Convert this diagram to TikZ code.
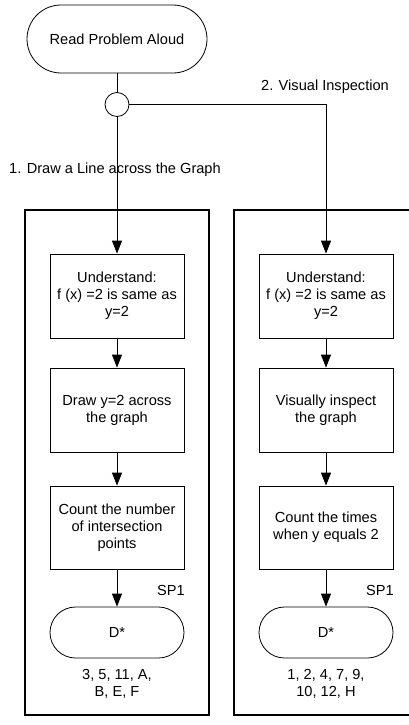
\documentclass[tikz,border=0pt]{standalone}
\usepackage{fontspec}
\setmainfont{Liberation Sans}
\usetikzlibrary{arrows.meta,positioning}
\begin{document}
\begin{tikzpicture}[x=1pt,y=-1pt,
  font=\fontsize{14.6}{17}\selectfont,
  line width=0.8pt,
  conn/.style={draw,-{Triangle[length=13pt,width=10pt]}},
  procbox/.style={draw,minimum width=134pt,minimum height=84pt,align=center,inner sep=2pt},
  termbox/.style={draw,rounded corners=25.5pt,minimum width=134pt,minimum height=51pt,align=center},
  outerbox/.style={draw,line width=1.5pt},
  lbl/.style={align=center,inner sep=0pt}]
\useasboundingbox (0,0) rectangle (409,725);
% outer containers
\draw[outerbox] (25,210) rectangle (209,715);
\draw[outerbox] (234,210) rectangle (420,715);
% top
\node[draw,rounded corners=34pt,minimum width=180pt,minimum height=68pt] (read) at (117,39) {Read Problem Aloud};
\node[draw,circle,minimum size=24pt,inner sep=0pt] (circ) at (117,104.5) {};
\node[lbl,inner sep=0pt] (lab1) at (115,170) {1. Draw a Line across the Graph};
\node[lbl] (lab2) at (325,87) {2. Visual Inspection};
% left column
\node[procbox] (L1) at (117,296) {Understand:\\f (x) =2 is same as\\y=2};
\node[procbox] (L2) at (117,410) {Draw y=2 across\\the graph};
\node[procbox,minimum height=83pt] (L3) at (117,527.5) {Count the number\\of intersection\\points};
\node[termbox] (LD) at (117,632.5) {D*};
\node[lbl] (LT) at (117,684) {3, 5, 11, A,\\B, E, F};
\node[lbl] (LS) at (171,590) {SP1};
% right column
\node[procbox] (R1) at (326,296) {Understand:\\f (x) =2 is same as\\y=2};
\node[procbox] (R2) at (326,410) {Visually inspect\\the graph};
\node[procbox,minimum height=83pt] (R3) at (326,527.5) {Count the times\\when y equals 2};
\node[termbox] (RD) at (326,632.5) {D*};
\node[lbl] (RT) at (326,684) {1, 2, 4, 7, 9,\\10, 12, H};
\node[lbl] (RS) at (380,590) {SP1};
% connectors
\draw (read) -- (circ);
\draw (circ.south) -- ([yshift=-7pt]circ.south |- lab1.north);
\draw[conn] ([yshift=7pt]circ.south |- lab1.south) -- (L1.north);
\draw[conn] (circ.east) -| (R1.north);
\draw[conn] (L1) -- (L2);
\draw[conn] (L2) -- (L3);
\draw[conn] (L3) -- (LD);
\draw[conn] (R1) -- (R2);
\draw[conn] (R2) -- (R3);
\draw[conn] (R3) -- (RD);
\end{tikzpicture}
\end{document}
